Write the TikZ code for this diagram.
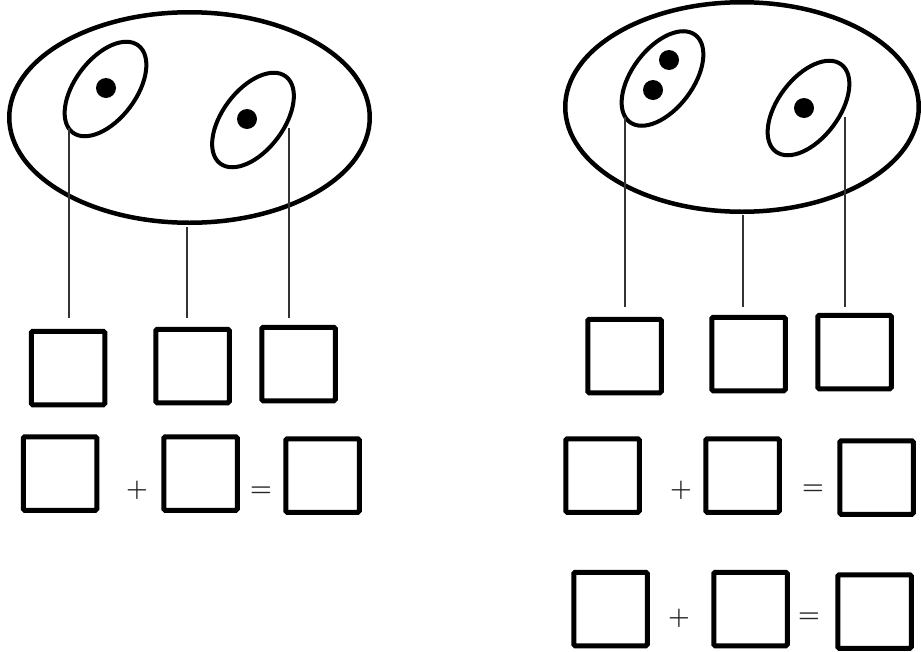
\documentclass[tikz,border=0pt]{standalone}
\usetikzlibrary{shapes.geometric}
\begin{document}
\begin{tikzpicture}[x=1pt,y=-1pt,
  bigell/.style={draw, ellipse, line width=4.5pt, inner sep=0pt},
  smallell/.style={draw, ellipse, line width=4pt, inner sep=0pt, minimum width=109pt, minimum height=61pt, rotate=53},
  dotmark/.style={fill=black, circle, inner sep=0pt, minimum size=20pt},
  sqbox/.style={draw, line width=5pt, minimum size=73.5pt, inner sep=0pt, rounded corners=1.5pt},
  conn/.style={line width=1.2pt, black!80},
  optext/.style={inner sep=0pt, text=black!85, font=\fontsize{29}{29}\selectfont\boldmath}]
\useasboundingbox (0,0) rectangle (921,651);

% ---------- left group ----------
\node[bigell, minimum width=360.5pt, minimum height=210.5pt] (LE) at (189.5,117.5) {};
\node[smallell] (LE1) at (105.5,89) {};
\node[smallell] (LE2) at (253,120) {};
\node[dotmark] (LD1) at (106,88) {};
\node[dotmark] (LD2) at (247,119) {};

\node[sqbox] (L1) at (68,368) {};
\node[sqbox] (L2) at (192.5,366) {};
\node[sqbox] (L3) at (298.5,364) {};

\coordinate (LT1) at (69,128);  \coordinate (LB1) at (69,318);
\coordinate (LT2) at (187,227); \coordinate (LB2) at (187,318);
\coordinate (LT3) at (289,128); \coordinate (LB3) at (289,318);
\draw[conn] (LT1) -- (LB1);
\draw[conn] (LT2) -- (LB2);
\draw[conn] (LT3) -- (LB3);

\node[sqbox] (LA) at (60,473.5) {};
\node[sqbox] (LB) at (200.5,473.5) {};
\node[sqbox] (LC) at (322.5,475.5) {};
\node[optext] (Lplus) at (137,490) {$+$};
\node[optext] (Leq) at (261,492) {$=$};

% ---------- right group ----------
\node[bigell, minimum width=353.5pt, minimum height=209.5pt] (RE) at (742,107) {};
\node[smallell] (RE1) at (662.5,78.5) {};
\node[smallell] (RE2) at (808.5,108) {};
\node[dotmark] (RD1) at (669,60) {};
\node[dotmark] (RD2) at (653,90) {};
\node[dotmark] (RD3) at (804,108) {};

\node[sqbox] (R1) at (624.5,356) {};
\node[sqbox] (R2) at (748.5,354) {};
\node[sqbox] (R3) at (854.5,352) {};

\coordinate (RT1) at (625,117); \coordinate (RB1) at (625,307);
\coordinate (RT2) at (743,215); \coordinate (RB2) at (743,307);
\coordinate (RT3) at (845,117); \coordinate (RB3) at (845,307);
\draw[conn] (RT1) -- (RB1);
\draw[conn] (RT2) -- (RB2);
\draw[conn] (RT3) -- (RB3);

\node[sqbox] (RA) at (602.5,475.5) {};
\node[sqbox] (RB) at (742.5,475.5) {};
\node[sqbox] (RC) at (876.5,477.5) {};
\node[optext] (Rplus) at (681,490) {$+$};
\node[optext] (Req) at (813,490) {$=$};

\node[sqbox] (RA2) at (610.5,609) {};
\node[sqbox] (RB2) at (750.5,609) {};
\node[sqbox] (RC2) at (874.5,611.5) {};
\node[optext] (Rplus2) at (679,618) {$+$};
\node[optext] (Req2) at (809,618) {$=$};
\end{tikzpicture}
\end{document}
